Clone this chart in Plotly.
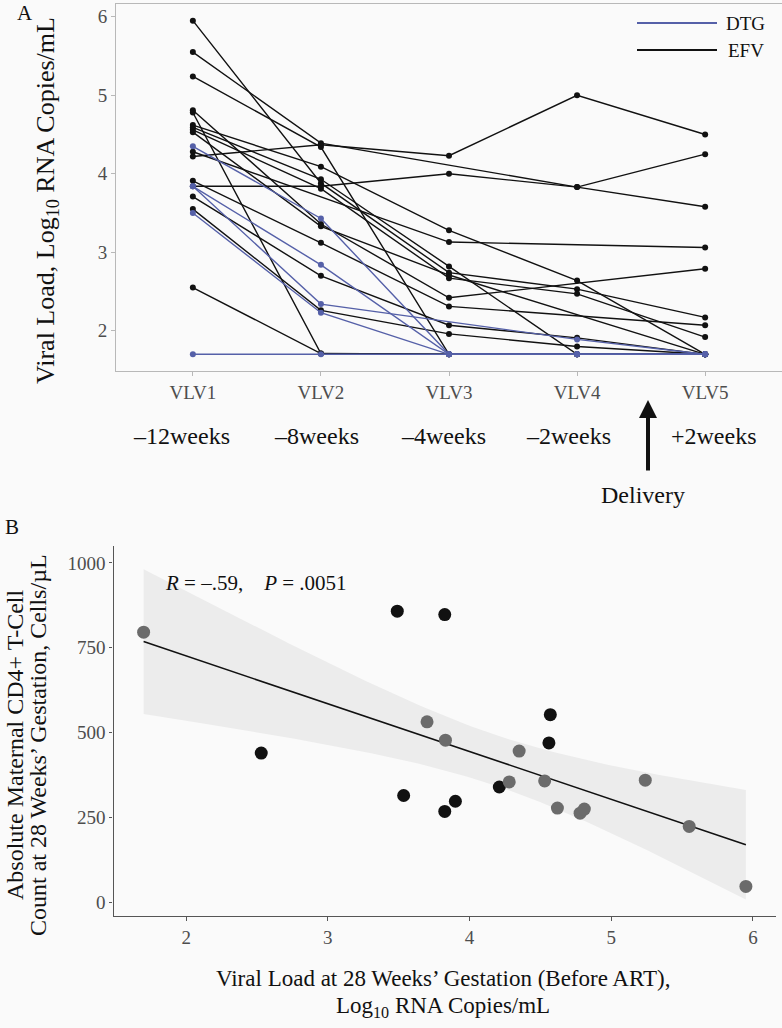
import numpy as np
import plotly.graph_objects as go

# ---- panel A: viral load by visit, one list per patient (None = missed visit)
visits = ["VLV1", "VLV2", "VLV3", "VLV4", "VLV5"]
week_labels = ["\u201312weeks", "\u20138weeks", "\u20134weeks", "\u20132weeks", "+2weeks"]

dtg_patients = [
    [4.35, 3.43, 1.70, 1.70, 1.70],
    [3.84, 2.84, 1.70, 1.70, 1.70],
    [3.84, 2.34, None, 1.89, 1.70],
    [3.50, 2.23, 1.70, 1.70, 1.70],
    [1.70, 1.70, 1.70, 1.70, 1.70],
]
efv_patients = [
    [5.95, 3.88, 2.74, 2.53, 2.17],
    [5.55, 4.39, None, 3.83, 3.58],
    [5.24, 4.34, 1.70, 1.70, 1.70],
    [4.81, 3.36, 2.42, None, 2.79],
    [4.78, 1.71, 1.70, 1.70, 1.70],
    [4.62, 4.09, 3.28, 2.64, 1.70],
    [4.59, 3.93, 2.82, 1.70, 1.70],
    [4.56, 3.81, 2.67, 2.47, 1.92],
    [4.53, 3.33, 2.71, None, 1.70],
    [4.28, None, 3.13, None, 3.06],
    [4.22, 4.37, 4.23, 5.00, 4.50],
    [3.91, 3.12, 2.31, None, 2.07],
    [3.84, 3.84, 4.00, 3.83, 4.25],
    [3.71, 2.70, 2.07, 1.91, 1.70],
    [3.55, 2.26, 1.96, 1.80, 1.70],
    [2.55, 1.71, 1.70, 1.70, 1.70],
]

# ---- panel B: CD4 count vs viral load at 28 weeks
vl28 = [1.70, 2.53, 3.49, 3.535, 3.70, 3.825, 3.83, 3.825, 3.90, 4.21, 4.28,
        4.35, 4.53, 4.56, 4.57, 4.62, 4.78, 4.81, 5.24, 5.55, 5.95]
cd4 = [796, 440, 858, 315, 532, 848, 478, 268, 298, 340, 355,
       446, 358, 470, 553, 278, 263, 275, 360, 224, 47]
shade = ["g", "k", "k", "k", "g", "k", "g", "k", "k", "k", "g",
         "g", "g", "k", "k", "g", "g", "g", "g", "g", "g"]

FONT = "Liberation Serif"
BLUE = "#5560a8"
BG = "#fafafa"
W, H = 782, 1028


def px(x):
    return x / W


def py(y):
    return 1 - y / H


fig = go.Figure()

for p in efv_patients:
    fig.add_trace(go.Scatter(x=visits, y=p, mode="lines+markers", connectgaps=True,
                             line=dict(color="#111111", width=1.4),
                             marker=dict(color="#111111", size=6),
                             showlegend=False, xaxis="x", yaxis="y"))
for p in dtg_patients:
    fig.add_trace(go.Scatter(x=visits, y=p, mode="lines+markers", connectgaps=True,
                             line=dict(color=BLUE, width=1.4),
                             marker=dict(color=BLUE, size=6),
                             showlegend=False, xaxis="x", yaxis="y"))

# linear fit with 95% confidence band (as geom_smooth(method="lm"))
x = np.array(vl28)
y = np.array(cd4, dtype=float)
n = len(x)
slope, intercept = np.polyfit(x, y, 1)
resid = y - (slope * x + intercept)
s = np.sqrt(np.sum(resid ** 2) / (n - 2))
sxx = np.sum((x - x.mean()) ** 2)
xs = np.linspace(x.min(), x.max(), 80)
fit = slope * xs + intercept
half = 2.093 * s * np.sqrt(1 / n + (xs - x.mean()) ** 2 / sxx)

fig.add_trace(go.Scatter(x=np.concatenate([xs, xs[::-1]]),
                         y=np.concatenate([fit + half, (fit - half)[::-1]]),
                         fill="toself", fillcolor="#ececec", line=dict(width=0),
                         hoverinfo="skip", showlegend=False, xaxis="x2", yaxis="y2"))
fig.add_trace(go.Scatter(x=xs, y=fit, mode="lines", line=dict(color="#111111", width=1.6),
                         showlegend=False, xaxis="x2", yaxis="y2"))

kx = [a for a, c in zip(vl28, shade) if c == "k"]
ky = [b for b, c in zip(cd4, shade) if c == "k"]
gx = [a for a, c in zip(vl28, shade) if c == "g"]
gy = [b for b, c in zip(cd4, shade) if c == "g"]
fig.add_trace(go.Scatter(x=kx, y=ky, mode="markers", marker=dict(color="#111111", size=13),
                         showlegend=False, xaxis="x2", yaxis="y2"))
fig.add_trace(go.Scatter(x=gx, y=gy, mode="markers", marker=dict(color="#6b6b6b", size=13),
                         showlegend=False, xaxis="x2", yaxis="y2"))

tickfont = dict(family=FONT, size=19, color="#4d4d4d")
fig.update_layout(
    width=W, height=H, margin=dict(l=0, r=0, t=0, b=0),
    paper_bgcolor=BG, plot_bgcolor=BG,
    font=dict(family=FONT, color="#111111"),
    xaxis=dict(domain=[px(116), 1.0], type="category", categoryarray=visits,
               range=[-0.6, 4.6], showgrid=False, zeroline=False,
               showline=True, mirror=True, linecolor="#b8b8b8", linewidth=1,
               ticks="outside", ticklen=4, tickcolor="#b8b8b8", tickfont=tickfont),
    yaxis=dict(domain=[py(371), py(4)], range=[1.4875, 6.1625], tickvals=[2, 3, 4, 5, 6],
               showgrid=False, zeroline=False,
               showline=True, mirror=True, linecolor="#b8b8b8", linewidth=1,
               ticks="outside", ticklen=4, tickcolor="#b8b8b8", tickfont=tickfont),
    xaxis2=dict(domain=[px(113.5), px(776)], range=[1.4875, 6.1625], tickvals=[2, 3, 4, 5, 6],
                anchor="y2", showgrid=False, zeroline=False,
                showline=True, linecolor="#555555", linewidth=1.2,
                ticks="outside", ticklen=4, tickcolor="#555555", tickfont=tickfont),
    yaxis2=dict(domain=[py(916), py(546)], range=[-40, 1050],
                tickvals=[0, 250, 500, 750, 1000], anchor="x2",
                showgrid=False, zeroline=False,
                showline=True, linecolor="#555555", linewidth=1.2,
                ticks="outside", ticklen=3, tickcolor="#555555", tickfont=tickfont),
)

ann = []


def text(t, x, y, size, **kw):
    d = dict(text=t, x=px(x), y=py(y), xref="paper", yref="paper", showarrow=False,
             xanchor="center", yanchor="middle",
             font=dict(family=FONT, size=size, color="#111111"))
    d.update(kw)
    ann.append(d)


text("A", 25, 13, 21)
text("B", 12, 527, 21)
text("Viral Load, Log<sub>10</sub> RNA Copies/mL", 47, 201, 26, textangle=-90)
for lab, cx in zip(week_labels, [181, 316, 443, 568, 714]):
    text(lab, cx, 436, 24)
text("Delivery", 643, 495, 24)
ann.append(dict(text="", x=px(648), y=py(400), xref="paper", yref="paper",
                showarrow=True, ax=0, ay=72, arrowhead=2, arrowsize=0.9,
                arrowwidth=4, arrowcolor="#111111"))

# legend drawn by hand so the key lines match the original length
text("DTG", 724, 23, 19, xanchor="left")
text("EFV", 726, 50, 19, xanchor="left")
shapes = [
    dict(type="line", xref="paper", yref="paper", x0=px(637), x1=px(717), y0=py(23), y1=py(23),
         line=dict(color=BLUE, width=2)),
    dict(type="line", xref="paper", yref="paper", x0=px(637), x1=px(717), y0=py(50), y1=py(50),
         line=dict(color="#111111", width=2)),
]

nb = "\u00a0"
text("<i>R</i>" + nb + "=" + nb + "\u2013.59," + nb * 4 + "<i>P</i>" + nb + "=" + nb + ".0051",
     163, 583, 21, xanchor="left")

text("Absolute Maternal CD4+ T-Cell", 15, 745, 24, textangle=-90)
text("Count at 28 Weeks\u2019 Gestation, Cells/\u00b5L", 38, 745, 24, textangle=-90)
text("Viral Load at 28 Weeks\u2019 Gestation (Before ART),", 443, 978, 23)
text("Log<sub>10</sub> RNA Copies/mL", 443, 1007, 23)

fig.update_layout(annotations=ann, shapes=shapes)
fig.write_html("out.html", config={"displayModeBar": False},
               post_script="document.body.style.margin='0px';")
